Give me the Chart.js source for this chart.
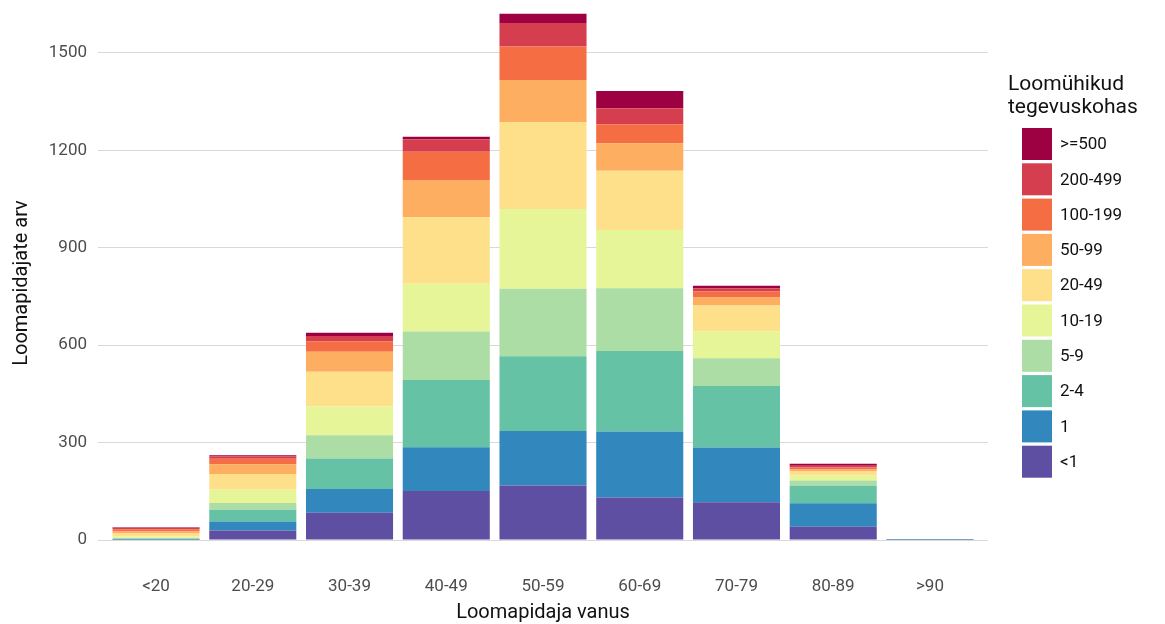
<!DOCTYPE html>
<html>
<head>
<meta charset="utf-8">
<script src="https://cdn.jsdelivr.net/npm/chart.js@4"></script>
<style>
 body { margin: 0; background: #fff; }
 canvas { display: block; }
</style>
</head>
<body>
<canvas id="ageChart" width="1165" height="624"></canvas>
<script>
const ageLabels = ['<20', '20-29', '30-39', '40-49', '50-59', '60-69', '70-79', '80-89', '>90'];

// livestock unit groups, bottom of the stack first
const groupLabels = ['<1', '1', '2-4', '5-9', '10-19', '20-49', '50-99', '100-199', '200-499', '>=500'];
const groupColors = ['#5e4fa2', '#3288bd', '#66c2a5', '#abdda4', '#e6f598', '#fee08b', '#fdae61', '#f46d43', '#d53e4f', '#9e0142'];

const lessThan1 = [1, 29, 84, 151, 168, 131, 116, 41, 1];
const one = [1, 28, 73, 135, 168, 203, 169, 72, 1];
const from2to4 = [2, 36, 94, 207, 230, 248, 189, 54, 1];
const from5to9 = [2, 21, 72, 149, 208, 193, 86, 16, 0];
const from10to19 = [6, 41, 89, 147, 245, 180, 82, 16, 0];
const from20to49 = [8, 48, 106, 205, 268, 182, 80, 12, 0];
const from50to99 = [7, 30, 62, 115, 130, 85, 25, 6, 0];
const from100to199 = [6, 17, 31, 87, 103, 58, 18, 6, 0];
const from200to499 = [5, 8, 17, 38, 72, 50, 10, 6, 0];
const atLeast500 = [1, 3, 10, 8, 29, 53, 8, 6, 0];

const yTicks = [0, 300, 600, 900, 1200, 1500];

const seriesValues = [lessThan1, one, from2to4, from5to9, from10to19, from20to49, from50to99, from100to199, from200to499, atLeast500];

const datasets = seriesValues.map((values, k) => ({
 label: groupLabels[k],
 data: values.map((v, i) => ({ x: i, y: v })),
 backgroundColor: groupColors[k],
 borderWidth: 0,
 barPercentage: 0.9,
 categoryPercentage: 1
}));

// legend on the right, drawn by hand so it sits like the original
const sideLegend = {
 id: 'sideLegend',
 afterDraw(chart) {
  const ctx = chart.ctx;
  ctx.save();
  ctx.fillStyle = '#111';
  ctx.textBaseline = 'middle';
  ctx.textAlign = 'left';
  ctx.font = '21px Roboto';
  ctx.fillText('Loomühikud', 1008, 85);
  ctx.fillText('tegevuskohas', 1008, 108);
  ctx.font = '17px Roboto';
  const items = chart.data.datasets.slice().reverse();
  items.forEach((ds, i) => {
   const top = 128 + i * 35.3;
   ctx.fillStyle = ds.backgroundColor;
   ctx.fillRect(1022, top, 30, 32);
   ctx.fillStyle = '#111';
   ctx.fillText(ds.label, 1060, top + 17);
  });
  ctx.restore();
 }
};

new Chart(document.getElementById('ageChart').getContext('2d'), {
 type: 'bar',
 data: { datasets: datasets },
 options: {
  responsive: false,
  animation: false,
  layout: { padding: { top: 0, right: 177, bottom: 0, left: 0 } },
  plugins: {
   legend: { display: false },
   tooltip: { enabled: false }
  },
  scales: {
   x: {
    type: 'linear',
    stacked: true,
    offset: false,
    min: -0.6,
    max: 8.6,
    grid: { display: false },
    border: { display: false },
    ticks: {
     stepSize: 1,
     includeBounds: false,
     padding: 3,
     color: '#4d4d4d',
     font: { family: 'Roboto', size: 17 },
     callback: (value) => ageLabels[value] ?? ''
    },
    title: {
     display: true,
     text: 'Loomapidaja vanus',
     color: '#111',
     font: { family: 'Roboto', size: 20 },
     padding: { top: 4, bottom: -1 }
    },
    afterFit: (scale) => {
     scale.height = 58;
     scale.paddingLeft = 0;
     scale.paddingRight = 0;
    }
   },
   y: {
    stacked: true,
    min: -80,
    max: 1663,
    afterBuildTicks: (scale) => { scale.ticks = yTicks.map(v => ({ value: v })); },
    grid: { color: '#d9d9d9', lineWidth: 1, drawTicks: false },
    border: { display: false },
    ticks: {
     padding: 11,
     color: '#4d4d4d',
     font: { family: 'Roboto', size: 17 },
     callback: (value) => String(value)
    },
    title: {
     display: true,
     text: 'Loomapidajate arv',
     color: '#111',
     font: { family: 'Roboto', size: 20 },
     padding: { top: 10, bottom: 4 }
    },
    afterFit: (scale) => {
     scale.width = 98;
     scale.paddingTop = 0;
     scale.paddingBottom = 0;
    }
   }
  }
 },
 plugins: [sideLegend]
});
</script>
</body>
</html>
